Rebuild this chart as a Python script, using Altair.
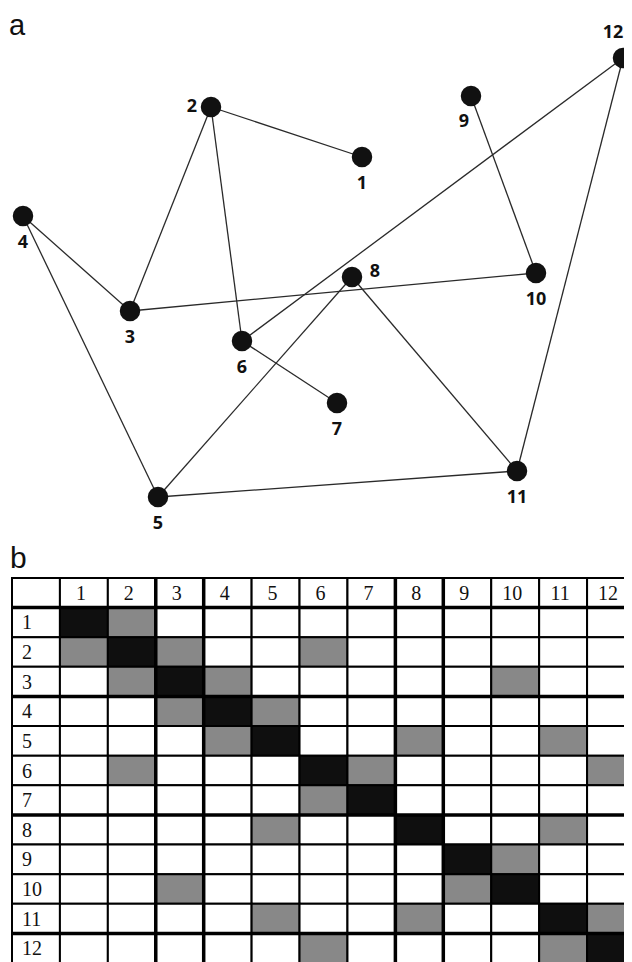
import altair as alt
import pandas as pd

# ---- panel a: network ----
node_ids = [1, 2, 3, 4, 5, 6, 7, 8, 9, 10, 11, 12]
node_x = [362, 211, 130, 23, 158, 242, 337, 352, 471, 536, 517, 623]
node_y = [157, 107, 311, 216, 497, 341, 403, 277, 96, 273, 471, 58]
label_side = ["below", "left", "below", "below", "below", "below", "below",
              "right", "belowleft", "below", "below", "above"]
edge_from = [1, 2, 2, 3, 3, 4, 5, 5, 6, 6, 8, 9, 11]
edge_to = [2, 3, 6, 4, 10, 5, 8, 11, 7, 12, 11, 10, 12]
panel_titles = ["a", "b"]

# ---- panel b: adjacency matrix labels ----
matrix_labels = [str(i) for i in node_ids]
heavy_col_lines = ["3", "4", "8", "9"]   # columns whose left border is printed heavier
heavy_row_lines = ["1", "4", "8", "12"]  # rows whose top border is printed heavier

nodes = pd.DataFrame({"id": node_ids, "x": node_x, "y": node_y,
                      "side": label_side,
                      "lab": [str(i) for i in node_ids]})
pos = {i: (x, y) for i, x, y in zip(node_ids, node_x, node_y)}
edges = pd.DataFrame({
    "x": [pos[a][0] for a in edge_from],
    "y": [pos[a][1] for a in edge_from],
    "x2": [pos[b][0] for b in edge_to],
    "y2": [pos[b][1] for b in edge_to],
})

W = 616
xs = alt.Scale(domain=[8, 8 + W], nice=False, zero=False)
ys = alt.Scale(domain=[8, 545], reverse=True, nice=False, zero=False)

edge_layer = alt.Chart(edges).mark_rule(color="#2a2a2a", strokeWidth=1.3, clip=True).encode(
    x=alt.X("x:Q", scale=xs, axis=None),
    y=alt.Y("y:Q", scale=ys, axis=None),
    x2="x2:Q", y2="y2:Q",
)
node_layer = alt.Chart(nodes).mark_circle(size=420, color="#111111", opacity=1, clip=True).encode(
    x=alt.X("x:Q", scale=xs, axis=None),
    y=alt.Y("y:Q", scale=ys, axis=None),
)

side_offsets = {
    "below": (0, 27),
    "left": (-19, 0),
    "right": (23, -5),
    "above": (-10, -25),
    "belowleft": (-7, 26),
}
label_layers = []
for side, (dx, dy) in side_offsets.items():
    label_layers.append(
        alt.Chart(nodes).transform_filter(alt.datum.side == side).mark_text(
            font="Noto Sans", fontSize=18, fontWeight="bold", color="#111111",
            dx=dx, dy=dy, align="center", baseline="middle", clip=True,
        ).encode(
            x=alt.X("x:Q", scale=xs, axis=None),
            y=alt.Y("y:Q", scale=ys, axis=None),
            text="lab:N",
        )
    )

title_a = alt.Chart(pd.DataFrame({"t": [panel_titles[0]]})).mark_text(
    font="Liberation Sans", fontSize=29, align="left", baseline="alphabetic",
    color="#111111", clip=True,
).encode(x=alt.value(1), y=alt.value(27), text="t:N")

panel_a = alt.layer(edge_layer, node_layer, *label_layers, title_a).properties(
    width=W, height=537
)

# ---- matrix cells ----
keys = ["h"] + matrix_labels
edge_set = set()
for a, b in zip(edge_from, edge_to):
    edge_set.add((a, b))
    edge_set.add((b, a))
rows = []
for r in keys:
    for c in keys:
        if r == "h" or c == "h":
            kind = "head"
        elif r == c:
            kind = "diag"
        elif (int(r), int(c)) in edge_set:
            kind = "edge"
        else:
            kind = "none"
        rows.append({"r": r, "c": c, "kind": kind})
cells = pd.DataFrame(rows)

head_text = pd.DataFrame({"r": ["h"] * 12, "c": matrix_labels, "t": matrix_labels})
row_text = pd.DataFrame({"r": matrix_labels, "c": ["h"] * 12, "t": matrix_labels})

HB = 418
TOP = 33
bx = alt.Scale(domain=keys, range=[4, 627], paddingInner=0, paddingOuter=0)
by = alt.Scale(domain=keys, range=[TOP, HB], paddingInner=0, paddingOuter=0)

rect_layer = alt.Chart(cells).mark_rect(stroke="#000000", strokeWidth=2, clip=True).encode(
    x=alt.X("c:N", scale=bx, sort=keys, axis=None),
    y=alt.Y("r:N", scale=by, sort=keys, axis=None),
    fill=alt.Fill("kind:N", scale=alt.Scale(domain=["none", "edge", "diag", "head"],
                                            range=["#ffffff", "#888888", "#0f0f0f", "#ffffff"]),
                  legend=None),
)
vline_layer = alt.Chart(pd.DataFrame({"c": heavy_col_lines})).mark_rule(
    color="#000000", strokeWidth=3.5, clip=True
).encode(
    x=alt.X("c:N", scale=bx, sort=keys, axis=None, bandPosition=0),
    y=alt.value(TOP), y2=alt.value(HB),
)
hline_layer = alt.Chart(pd.DataFrame({"r": heavy_row_lines})).mark_rule(
    color="#000000", strokeWidth=3.5, clip=True
).encode(
    y=alt.Y("r:N", scale=by, sort=keys, axis=None, bandPosition=0),
    x=alt.value(4), x2=alt.value(W),
)
head_layer = alt.Chart(head_text).mark_text(
    font="Liberation Serif", fontSize=20, color="#111111", align="center", baseline="middle",
    dx=-3, dy=1, clip=True,
).encode(
    x=alt.X("c:N", scale=bx, sort=keys, axis=None),
    y=alt.Y("r:N", scale=by, sort=keys, axis=None),
    text="t:N",
)
rowlab_layer = alt.Chart(row_text).mark_text(
    font="Liberation Serif", fontSize=20, color="#111111", align="left", baseline="middle",
    dx=10, dy=1, clip=True,
).encode(
    x=alt.X("c:N", scale=bx, sort=keys, axis=None, bandPosition=0),
    y=alt.Y("r:N", scale=by, sort=keys, axis=None),
    text="t:N",
)
title_b = alt.Chart(pd.DataFrame({"t": [panel_titles[1]]})).mark_text(
    font="Liberation Sans", fontSize=30, align="left", baseline="alphabetic",
    color="#111111", clip=True,
).encode(x=alt.value(2), y=alt.value(23), text="t:N")

panel_b = alt.layer(rect_layer, vline_layer, hline_layer, head_layer, rowlab_layer,
                    title_b).properties(width=W, height=HB)

chart = alt.vconcat(panel_a, panel_b, spacing=0).properties(
    padding=0, background="white"
).configure_view(strokeWidth=0, stroke="transparent")

chart.save("out.html", embed_options={"renderer": "svg", "actions": False})
